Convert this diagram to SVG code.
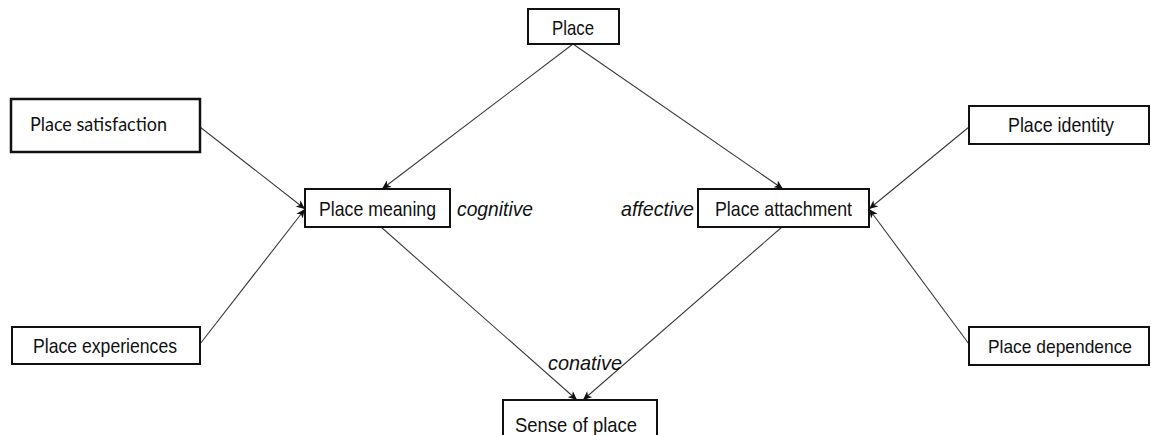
<svg xmlns="http://www.w3.org/2000/svg" width="1151" height="435" viewBox="0 0 1151 435">
  <style>
    .box { fill: #ffffff; stroke: #111111; stroke-width: 2; }
    .box.thick { stroke-width: 2.5; }
    .lbl { font-family: "Liberation Sans", Arial, sans-serif; font-size: 21px; fill: #111111; }
    .lbl.small { font-size: 19px; }
    .lbl2 { font-family: Lato, "Liberation Sans", sans-serif; font-size: 20px; fill: #111111; }
    .aspect { font-family: "Liberation Sans", Arial, sans-serif; font-size: 21px; font-style: italic; fill: #111111; }
    .edge { stroke: #3a3a3a; stroke-width: 1.1; fill: none; marker-end: url(#arrow); }
  </style>
  <defs>
    <marker id="arrow" markerUnits="userSpaceOnUse" markerWidth="10" markerHeight="8" refX="9" refY="4" orient="auto">
      <path d="M0,0 L9,4 L0,8 L2.5,4 Z" fill="#111111"/>
    </marker>
  </defs>
  <rect width="1151" height="435" fill="#ffffff"/>

  <g id="connectors">
    <line class="edge" x1="573" y1="44" x2="382" y2="189"/>
    <line class="edge" x1="573" y1="44" x2="783" y2="189"/>
    <line class="edge" x1="200" y1="127" x2="305" y2="209"/>
    <line class="edge" x1="200" y1="344" x2="305" y2="209"/>
    <line class="edge" x1="969" y1="127" x2="869" y2="209"/>
    <line class="edge" x1="969" y1="344" x2="869" y2="209"/>
    <line class="edge" x1="381" y1="227" x2="577" y2="400"/>
    <line class="edge" x1="782" y1="227" x2="583" y2="400"/>
  </g>

  <g id="place">
    <rect class="box" x="528" y="9" width="91" height="35"/>
    <text class="lbl" x="552" y="35" textLength="42" lengthAdjust="spacingAndGlyphs">Place</text>
  </g>

  <g id="place-satisfaction">
    <rect class="box thick" x="11" y="99" width="189" height="53"/>
    <text class="lbl2" x="30" y="131" textLength="137" lengthAdjust="spacingAndGlyphs">Place satisfaction</text>
  </g>

  <g id="place-experiences">
    <rect class="box" x="12" y="327" width="188" height="37"/>
    <text class="lbl" x="33" y="353" textLength="144" lengthAdjust="spacingAndGlyphs">Place experiences</text>
  </g>

  <g id="place-meaning">
    <rect class="box" x="305" y="189" width="145" height="38"/>
    <text class="lbl" x="319" y="216" textLength="117" lengthAdjust="spacingAndGlyphs">Place meaning</text>
    <text class="aspect" x="457" y="216" textLength="76" lengthAdjust="spacingAndGlyphs">cognitive</text>
  </g>

  <g id="place-attachment">
    <rect class="box" x="698" y="189" width="171" height="38"/>
    <text class="lbl" x="715" y="216" textLength="137" lengthAdjust="spacingAndGlyphs">Place attachment</text>
    <text class="aspect" x="621" y="216" textLength="73" lengthAdjust="spacingAndGlyphs">affective</text>
  </g>

  <g id="place-identity">
    <rect class="box" x="969" y="106" width="180" height="38"/>
    <text class="lbl" x="1008" y="132" textLength="106" lengthAdjust="spacingAndGlyphs">Place identity</text>
  </g>

  <g id="place-dependence">
    <rect class="box" x="969" y="327" width="180" height="38"/>
    <text class="lbl small" x="988" y="353" textLength="144" lengthAdjust="spacingAndGlyphs">Place dependence</text>
  </g>

  <g id="sense-of-place">
    <rect class="box" x="503" y="400" width="154" height="45"/>
    <text class="lbl" x="515" y="432" textLength="122" lengthAdjust="spacingAndGlyphs">Sense of place</text>
    <text class="aspect" x="548" y="370" textLength="74" lengthAdjust="spacingAndGlyphs">conative</text>
  </g>
</svg>
